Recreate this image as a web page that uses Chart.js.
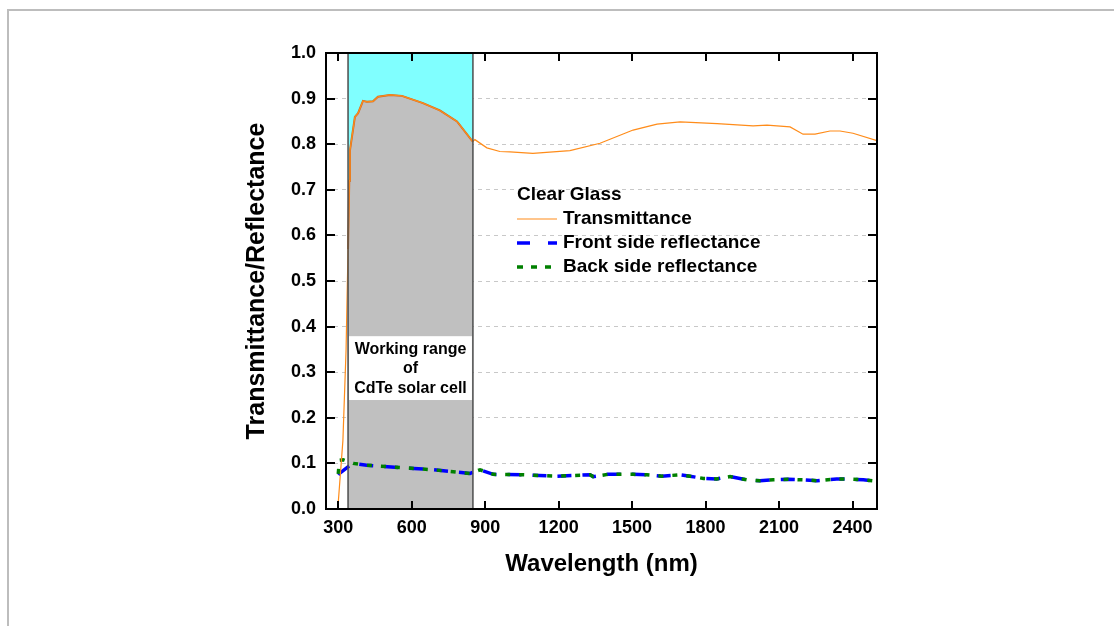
<!DOCTYPE html>
<html>
<head>
<meta charset="utf-8">
<script src="https://cdn.jsdelivr.net/npm/chart.js@4.4.0/dist/chart.umd.min.js"></script>
<style>
  html, body { margin: 0; padding: 0; background: #fff; overflow: hidden; }
  #frame { position: absolute; left: 7px; top: 9px; width: 1200px; height: 700px; border: 2px solid #bdbdbd; }
  #wrap { position: absolute; left: 0; top: 0; width: 1114px; height: 626px; }
</style>
</head>
<body>
<div id="frame"></div>
<div id="wrap"><canvas id="chart" width="1114" height="626"></canvas></div>
<script>
/* ===== data ===== */
var transWl  = [298, 319, 332, 340, 345, 348, 368, 381, 401, 417, 442, 462, 511, 560, 646, 715, 785, 846, 850, 858, 907, 960, 1001, 1095, 1246, 1369, 1504, 1602, 1696, 1847, 1994, 2051, 2145, 2198, 2247, 2308, 2349, 2402, 2500];
var transVal = [0.0, 0.15, 0.35, 0.57, 0.72, 0.787, 0.86, 0.868, 0.895, 0.893, 0.894, 0.904, 0.908, 0.906, 0.890, 0.874, 0.850, 0.808, 0.806, 0.810, 0.792, 0.784, 0.783, 0.780, 0.786, 0.802, 0.831, 0.844, 0.849, 0.845, 0.840, 0.842, 0.838, 0.822, 0.822, 0.829, 0.829, 0.824, 0.808];

var reflWl   = [300, 305, 320, 341, 361, 416, 552, 688, 838, 879, 933, 1056, 1192, 1328, 1341, 1400, 1450, 1504, 1560, 1621, 1696, 1736, 1791, 1845, 1900, 1968, 2022, 2077, 2138, 2199, 2256, 2335, 2376, 2444, 2500];
var frontVal = [0.075, 0.078, 0.084, 0.093, 0.100, 0.096, 0.091, 0.086, 0.078, 0.086, 0.076, 0.075, 0.072, 0.075, 0.071, 0.076, 0.076, 0.076, 0.075, 0.072, 0.075, 0.072, 0.067, 0.066, 0.071, 0.064, 0.062, 0.064, 0.065, 0.064, 0.062, 0.066, 0.066, 0.064, 0.061];
var backVal  = [0.077, 0.107, 0.108, 0.104, 0.100, 0.096, 0.091, 0.086, 0.078, 0.086, 0.076, 0.075, 0.072, 0.075, 0.071, 0.076, 0.076, 0.076, 0.075, 0.072, 0.075, 0.072, 0.067, 0.066, 0.071, 0.064, 0.062, 0.064, 0.065, 0.064, 0.062, 0.066, 0.066, 0.064, 0.061];

var xTicks = [300, 600, 900, 1200, 1500, 1800, 2100, 2400];
var yTicks = [0, 0.1, 0.2, 0.3, 0.4, 0.5, 0.6, 0.7, 0.8, 0.9, 1.0];
var rangeStart = 340, rangeEnd = 850;
var rangeText = ["Working range", "of", "CdTe solar cell"];
var legendTitle = "Clear Glass";
var seriesNames = ["Transmittance", "Front side reflectance", "Back side reflectance"];

/* ===== helpers ===== */
function pairs(xs, ys) {
    var out = [];
    for (var i = 0; i < xs.length; i++) out.push({x: xs[i], y: ys[i]});
    return out;
}
var transPts = pairs(transWl, transVal);
var grayPts = transPts.filter(function(p) { return p.x >= rangeStart && p.x <= rangeEnd; });

var FONT = "'Liberation Sans', Arial, sans-serif";
var ORANGE = '#ff8c1a';
var BLUE = '#0000ff';
var GREEN = '#008000';

// frame, inward ticks, range box and legend
var decor = {
    id: 'decor',
    afterDatasetsDraw: function(chart) {
        var c = chart.ctx, a = chart.chartArea;
        var xs = chart.scales.x, ys = chart.scales.y;
        c.save();

        // range border lines
        c.strokeStyle = '#4d4d4d';
        c.lineWidth = 1.5;
        [rangeStart, rangeEnd].forEach(function(v) {
            var px = xs.getPixelForValue(v);
            c.beginPath(); c.moveTo(px, a.top); c.lineTo(px, a.bottom); c.stroke();
        });

        // white label box
        var bx1 = xs.getPixelForValue(rangeStart) + 1, bx2 = xs.getPixelForValue(rangeEnd) - 1;
        var by1 = ys.getPixelForValue(0.379), by2 = ys.getPixelForValue(0.239);
        c.fillStyle = '#fff';
        c.fillRect(bx1, by1, bx2 - bx1, by2 - by1);
        c.fillStyle = '#000';
        c.font = 'bold 16px ' + FONT;
        c.textAlign = 'center';
        c.textBaseline = 'middle';
        var cx = (bx1 + bx2) / 2;
        rangeText.forEach(function(t, i) { c.fillText(t, cx, by1 + 13 + i * 19.5); });

        // inward ticks
        c.strokeStyle = '#000';
        c.lineWidth = 2;
        xTicks.forEach(function(v) {
            var px = Math.round(xs.getPixelForValue(v));
            c.beginPath(); c.moveTo(px, a.bottom); c.lineTo(px, a.bottom - 8); c.stroke();
            c.beginPath(); c.moveTo(px, a.top); c.lineTo(px, a.top + 8); c.stroke();
        });
        yTicks.forEach(function(v) {
            var py = Math.round(ys.getPixelForValue(v));
            c.beginPath(); c.moveTo(a.left, py); c.lineTo(a.left + 9, py); c.stroke();
            c.beginPath(); c.moveTo(a.right, py); c.lineTo(a.right - 9, py); c.stroke();
        });

        // box
        c.strokeRect(a.left, a.top, a.right - a.left, a.bottom - a.top);

        // legend
        var lx = 517, ly = 195;
        c.textAlign = 'left';
        c.font = 'bold 19px ' + FONT;
        c.fillText(legendTitle, lx, ly);
        var styles = [
            {color: ORANGE, width: 1.2, dash: []},
            {color: BLUE, width: 3.5, dash: [13, 18]},
            {color: GREEN, width: 3.5, dash: [6, 8]}
        ];
        styles.forEach(function(s, i) {
            var yy = ly + 24 * (i + 1);
            c.strokeStyle = s.color;
            c.lineWidth = s.width;
            c.setLineDash(s.dash);
            c.beginPath(); c.moveTo(lx, yy); c.lineTo(lx + 40, yy); c.stroke();
            c.setLineDash([]);
            c.fillText(seriesNames[i], lx + 46, yy);
        });
        c.restore();
    }
};

var ctx = document.getElementById('chart');
var chart = new Chart(ctx, {
    type: 'line',
    data: {
        datasets: [{
            label: 'range',
            data: [{x: rangeStart, y: 1}, {x: rangeEnd, y: 1}],
            backgroundColor: '#80ffff',
            borderWidth: 0,
            fill: 'origin',
            order: 10
        }, {
            label: 'range-gray',
            data: grayPts,
            backgroundColor: '#c0c0c0',
            borderColor: '#c8692a',
            borderWidth: 2,
            fill: 'origin',
            order: 9
        }, {
            label: seriesNames[1],
            data: pairs(reflWl, frontVal),
            borderColor: BLUE,
            borderWidth: 3.5,
            borderDash: [14, 11],
            fill: false,
            order: 3
        }, {
            label: seriesNames[2],
            data: pairs(reflWl, backVal),
            borderColor: GREEN,
            borderWidth: 3.5,
            borderDash: [5, 9],
            fill: false,
            order: 2
        }, {
            label: seriesNames[0],
            data: transPts,
            borderColor: ORANGE,
            borderWidth: 1.2,
            fill: false,
            order: 1
        }]
    },
    options: {
        responsive: false,
        animation: false,
        layout: { padding: { left: 238, right: 237, top: 53, bottom: 43 } },
        elements: { point: { radius: 0 }, line: { tension: 0 } },
        plugins: { legend: { display: false }, tooltip: { enabled: false } },
        scales: {
            x: {
                type: 'linear',
                min: 250,
                max: 2500,
                afterBuildTicks: function(s) { s.ticks = xTicks.map(function(v) { return {value: v}; }); },
                afterFit: function(s) { s.height = 74; },
                grid: { display: false, drawTicks: false },
                border: { display: false },
                ticks: {
                    color: '#000', padding: 8, maxRotation: 0,
                    font: { family: FONT, size: 18, weight: 'bold' },
                    callback: function(v) { return String(v); }
                },
                title: { display: true, text: 'Wavelength (nm)', color: '#000', font: { family: FONT, size: 24, weight: 'bold' } }
            },
            y: {
                min: 0,
                max: 1,
                afterBuildTicks: function(s) { s.ticks = yTicks.map(function(v) { return {value: v}; }); },
                afterFit: function(s) { s.width = 88; },
                grid: { color: '#c8c8c8', lineWidth: 1, drawTicks: false },
                border: { display: false, dash: [4, 4] },
                ticks: {
                    color: '#000', padding: 10,
                    font: { family: FONT, size: 18, weight: 'bold' },
                    callback: function(v) { return v.toFixed(1); }
                },
                title: { display: true, text: 'Transmittance/Reflectance', color: '#000', font: { family: FONT, size: 25, weight: 'bold' } }
            }
        }
    },
    plugins: [decor]
});
</script>
</body>
</html>
